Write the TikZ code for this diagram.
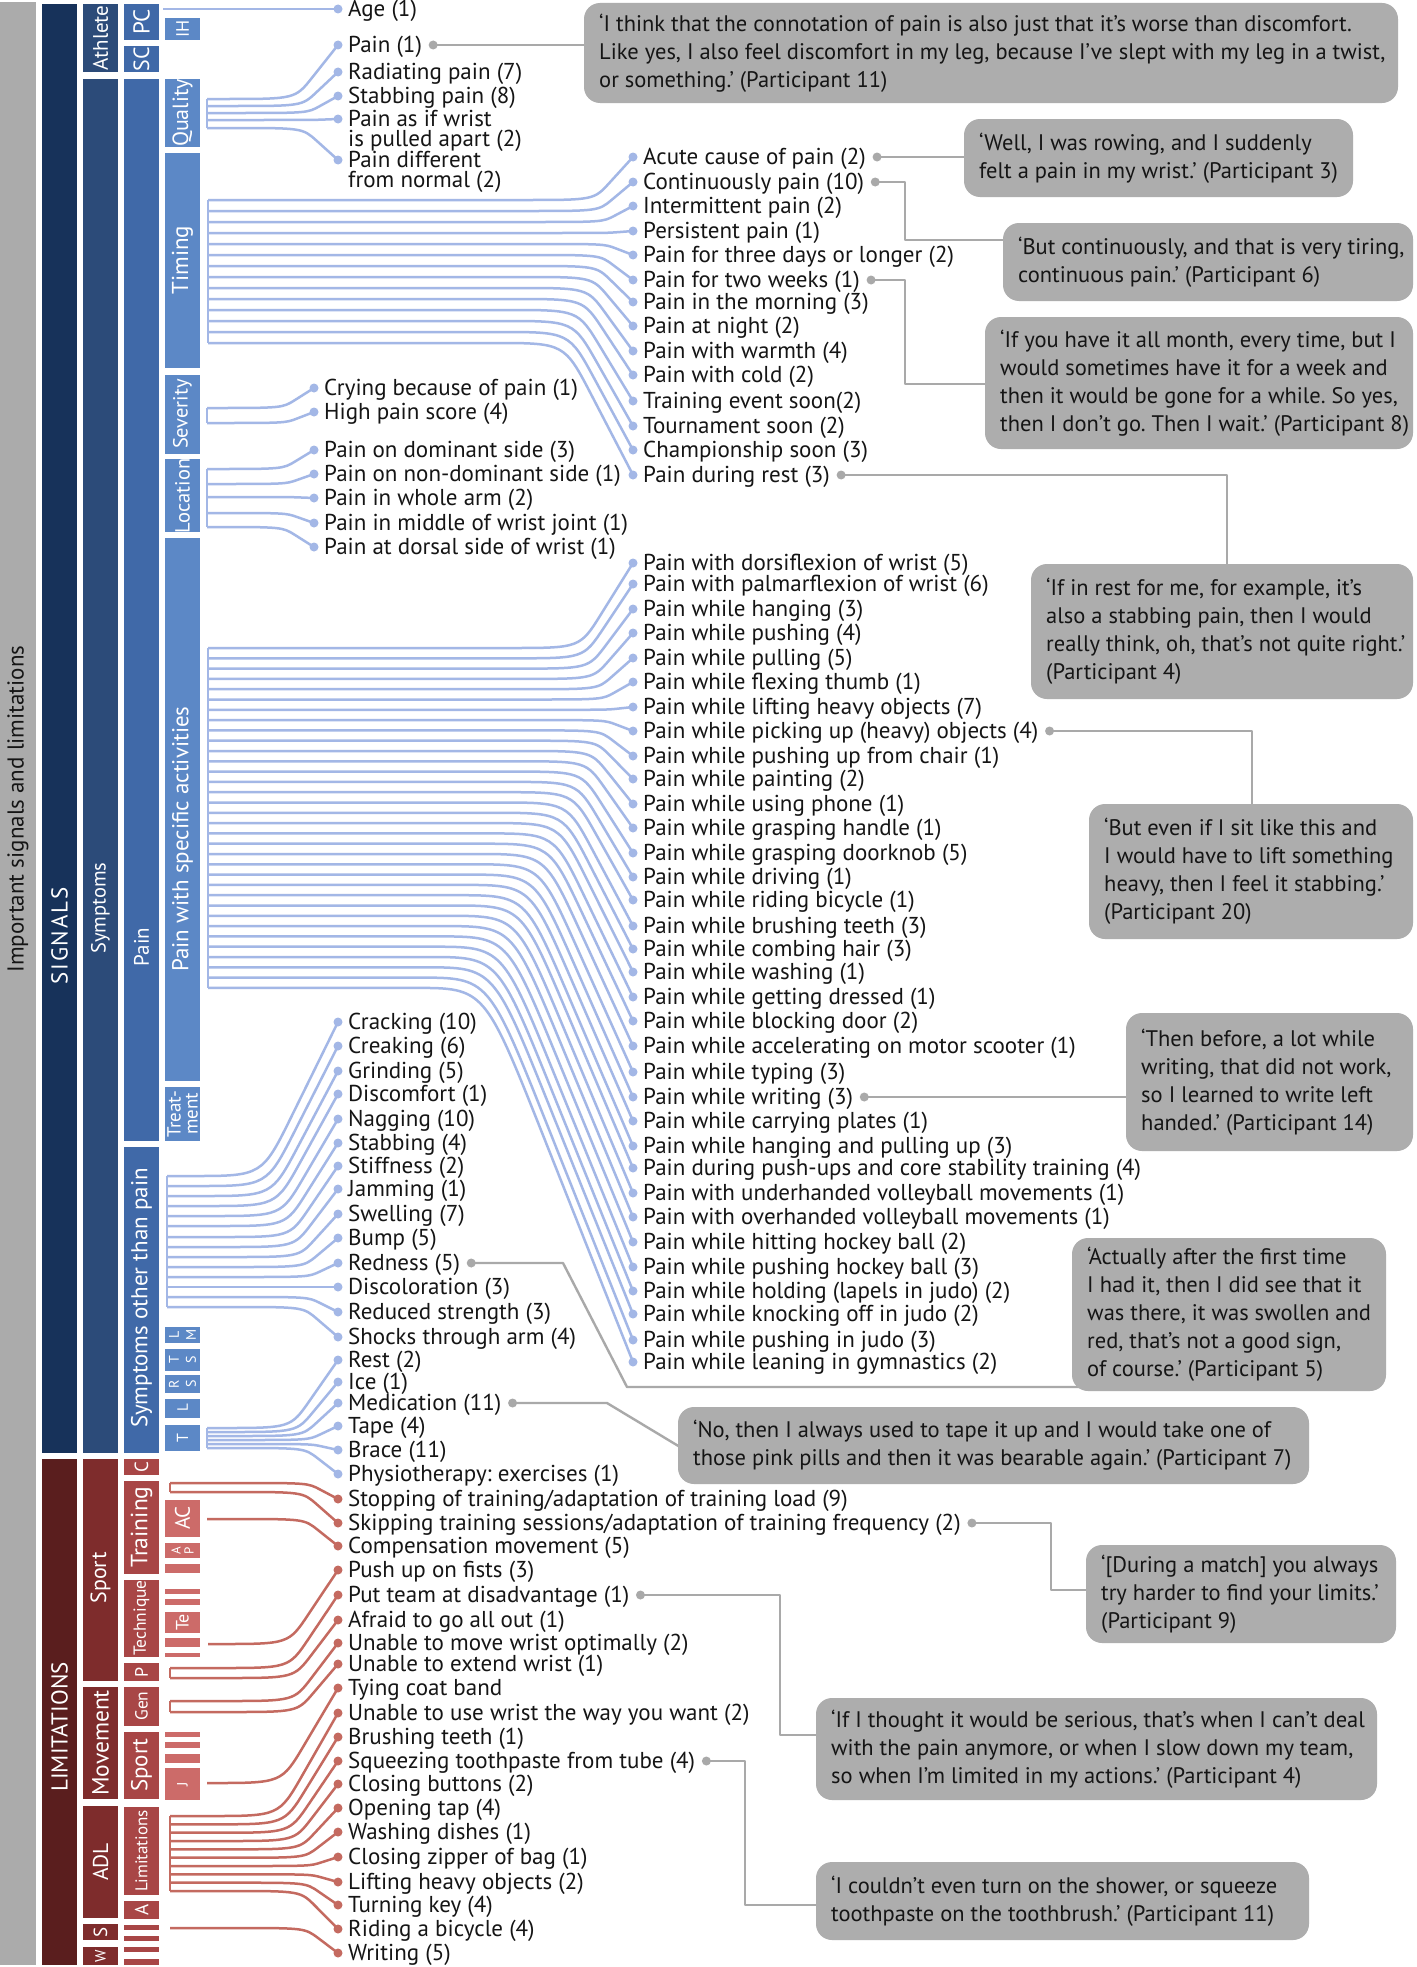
\documentclass[tikz,border=0pt]{standalone}
\usepackage{fontspec}
\setmainfont{PT Sans}
\usetikzlibrary{calc}
\pgfdeclarelayer{bg}
\pgfsetlayers{bg,main}
\frenchspacing
\definecolor{gcol}{HTML}{ABABAB}
\definecolor{bA}{HTML}{17325A}
\definecolor{bB}{HTML}{2C4B79}
\definecolor{bC}{HTML}{4069A8}
\definecolor{bD}{HTML}{5C88C6}
\definecolor{bl}{HTML}{A3B7E6}
\definecolor{rA}{HTML}{5A1E1E}
\definecolor{rB}{HTML}{7E2C2C}
\definecolor{rC}{HTML}{A84646}
\definecolor{rD}{HTML}{CC6B69}
\definecolor{rl}{HTML}{C46A60}
\definecolor{qg}{HTML}{ADADAD}
\definecolor{ql}{HTML}{A9A9A9}
\definecolor{txt}{HTML}{151515}
\newcommand\lfont{\fontsize{23}{24}\selectfont}
\newcommand\qfont{\fontsize{22.5}{28}\selectfont}
\newcommand\fs[1]{\fontsize{#1}{#1}\selectfont}
\tikzset{
 cb/.style={inner sep=0, draw=none, minimum width=35},
 rt/.style={rotate=90, inner sep=0, text=white, align=center},
 bdot/.style={circle, fill=bl, inner sep=0, minimum size=9},
 rdot/.style={circle, fill=rl, inner sep=0, minimum size=9},
 gdot/.style={circle, fill=ql, inner sep=0, minimum size=9},
 bln/.style={draw=bl, line width=2.5pt, line join=round},
 rln/.style={draw=rl, line width=2.5pt, line join=round},
 qln/.style={draw=ql, line width=2.4pt, line join=round},
 lbl/.style={anchor=base west, inner sep=0, font=\lfont, text=txt},
 qb/.style={fill=qg, rounded corners=16, inner sep=0},
 qt/.style={anchor=west, inner sep=0, font=\qfont, align=left, text=txt},
}
% coloured column box: name, colour, x1, y1, y2
\newcommand\cbx[5]{\node[cb, fill=#2, minimum height={#5-#4}] (#1) at ({#3+17.5},{(#4+#5)/2}) {};}
% branch item: line style, dot style, name, xs, ys, xdot, y, text
\newcommand\brit[8]{%
  \node[#2] (#3) at (#6,#7) {};
  \node[lbl] (#3t) at ({#6+10},{#7+7.5}) {#8};
  \pgfmathsetmacro\brdy{abs(#7-#5)}%
  \pgfmathsetmacro\brxb{#6-25-0.33*\brdy}%
  \pgfmathsetmacro\brxa{max(#4+5,\brxb-70)}%
  \coordinate (s#3) at (#4,#5);
  \begin{pgfonlayer}{bg}
  \draw[#1] (s#3) -- (\brxa,#5) .. controls (\brxb,#5) .. ($(\brxb,#5)!0.4!(#3.center)$) -- (#3.center);
  \end{pgfonlayer}}
\newcommand\bB[4]{\brit{bln}{bdot}{#1}{208}{#2}{633}{#3}{#4}}
\newcommand\bA[4]{\brit{bln}{bdot}{#1}{167}{#2}{338}{#3}{#4}}
\newcommand\rR[5]{\brit{rln}{rdot}{#1}{#2}{#3}{338}{#4}{#5}}
% quote box: name, x1, y1, x2, y2, text
\newcommand\qbox[6]{%
  \node[qb, minimum width={#4-#2}, minimum height={#5-#3}] (#1) at ({(#2+#4)/2},{(#3+#5)/2}) {};
  \node[qt] (#1t) at ({#2+15},{(#3+#5)/2}) {#6};}
\newcommand\gd[2]{\node[gdot] (#1) at ($(#2.base east)+(11,-7.5)$) {};}
\begin{document}
\begin{tikzpicture}[x=1pt,y=-1pt]
\useasboundingbox (0,0) rectangle (1416,1967);
\begin{pgfonlayer}{bg}
\fill[white] (0,0) rectangle (1416,1967);
\end{pgfonlayer}
% ---------------- columns ----------------
\node[cb, fill=gcol, minimum width=36, minimum height=1963] (gray) at (18,983.5) {};
\node[rt, text=txt, font=\fs{23}] (tImp) at (18,809) {Important signals and limitations};
% column 1
\cbx{cSig}{bA}{42}{4}{1453}
\cbx{cLim}{rA}{42}{1459}{1965}
\node[rt, font=\fs{23}\addfontfeatures{LetterSpace=8}] (tSig) at (59.5,936) {SIGNALS};
\node[rt, font=\fs{23}] (tLim) at (59.5,1727) {LIMITATIONS};
% column 2
\cbx{cAth}{bB}{83}{4}{72}
\cbx{cSym}{bB}{83}{79}{1453}
\cbx{cSpo}{rB}{83}{1459}{1681}
\cbx{cMov}{rB}{83}{1687}{1799}
\cbx{cADL}{rB}{83}{1806}{1918}
\cbx{cS}{rB}{83}{1924}{1940}
\cbx{cW}{rB}{83}{1947}{1965}
\node[rt, font=\fs{21}] (tAth) at (100.5,38) {Athlete};
\node[rt, font=\fs{20.5}] (tSym) at (100.5,908) {Symptoms};
\node[rt, font=\fs{22}] (tSpo) at (100.5,1578) {Sport};
\node[rt, font=\fs{23.5}] (tMov) at (100.5,1743) {Movement};
\node[rt, font=\fs{21.5}] (tADL) at (100.5,1862) {ADL};
\node[rt, font=\fs{19}] (tS) at (100.5,1932) {S};
\node[rt, font=\fs{15}] (tW) at (100.5,1956) {W};
% column 3
\cbx{cPC}{bC}{124}{4}{40}
\cbx{cSC}{bC}{124}{46}{72}
\cbx{cPain}{bC}{124}{79}{1141}
\cbx{cSop}{bC}{124}{1147}{1453}
\cbx{cC}{rC}{124}{1459}{1475}
\cbx{cTra}{rC}{124}{1481}{1574}
\cbx{cTec}{rC}{124}{1580}{1657}
\cbx{cP}{rC}{124}{1663}{1681}
\cbx{cGen}{rC}{124}{1687}{1726}
\cbx{cSp2}{rC}{124}{1732}{1799}
\cbx{cLimi}{rC}{124}{1807}{1895}
\cbx{cA}{rC}{124}{1901}{1919}
\cbx{cs1}{rC}{124}{1925}{1930}
\cbx{cs2}{rC}{124}{1936}{1941}
\cbx{cs3}{rC}{124}{1947}{1952}
\cbx{cs4}{rC}{124}{1959}{1965}
\node[rt, font=\fs{23}] (tPC) at (141.5,22) {PC};
\node[rt, font=\fs{22}] (tSC) at (141.5,59) {SC};
\node[rt, font=\fs{21}] (tPain) at (141.5,947) {Pain};
\node[rt, font=\fs{23}] (tSop) at (141.5,1298) {Symptoms other than pain};
\node[rt, font=\fs{19}] (tC) at (141.5,1467) {C};
\node[rt, font=\fs{23.5}] (tTra) at (141.5,1527) {Training};
\node[rt, font=\fs{17.5}] (tTec) at (141.5,1618) {Technique};
\node[rt, font=\fs{18}] (tP) at (141.5,1672) {P};
\node[rt, font=\fs{17.5}] (tGen) at (141.5,1706) {Gen};
\node[rt, font=\fs{23}] (tSp2) at (141.5,1765) {Sport};
\node[rt, font=\fs{17}] (tLimi) at (141.5,1851) {Limitations};
\node[rt, font=\fs{19}] (tA) at (141.5,1910) {A};
% column 4
\cbx{dIH}{bD}{165}{18}{40}
\cbx{dQua}{bD}{165}{79}{147}
\cbx{dTim}{bD}{165}{153}{368}
\cbx{dSev}{bD}{165}{375}{454}
\cbx{dLoc}{bD}{165}{459}{532}
\cbx{dAct}{bD}{165}{538}{1081}
\cbx{dTre}{bD}{165}{1087}{1141}
\cbx{dLM}{bD}{165}{1327}{1343}
\cbx{dTS}{bD}{165}{1349}{1371}
\cbx{dRS}{bD}{165}{1375}{1393}
\cbx{dL}{bD}{165}{1399}{1418}
\cbx{dT}{bD}{165}{1425}{1451}
\cbx{dAC}{rD}{165}{1500}{1537}
\cbx{dAP}{rD}{165}{1543}{1558}
\cbx{ds1}{rD}{165}{1564}{1573}
\cbx{ds2}{rD}{165}{1589}{1594}
\cbx{ds3}{rD}{165}{1599}{1605}
\cbx{dTe}{rD}{165}{1612}{1633}
\cbx{ds4}{rD}{165}{1638}{1647}
\cbx{ds5}{rD}{165}{1653}{1657}
\cbx{ds6}{rD}{165}{1732}{1737}
\cbx{ds7}{rD}{165}{1742}{1748}
\cbx{ds8}{rD}{165}{1754}{1763}
\cbx{dJ}{rD}{165}{1768}{1800}
\node[rt, font=\fs{18}] (tIH) at (182.5,29) {IH};
\node[rt, font=\fs{22}] (tQua) at (182.5,113) {Quality};
\node[rt, font=\fs{23}] (tTim) at (182.5,260) {Timing};
\node[rt, font=\fs{20.5}] (tSev) at (182.5,414) {Severity};
\node[rt, font=\fs{20.5}] (tLoc) at (182.5,496) {Location};
\node[rt, font=\fs{23}] (tAct) at (182.5,839) {Pain with specific activities};
\node[rt, font=\fontsize{19}{17}\selectfont] (tTre) at (182.5,1114) {Treat-\\ment};
\node[rt, font=\fontsize{14}{17}\selectfont] (tLM) at (182.5,1335) {L\\M};
\node[rt, font=\fontsize{14}{17}\selectfont] (tTS) at (182.5,1360) {T\\S};
\node[rt, font=\fontsize{14}{17}\selectfont] (tRS) at (182.5,1384) {R\\S};
\node[rt, font=\fs{15}] (tL) at (182.5,1408) {L};
\node[rt, font=\fs{16}] (tT) at (182.5,1438) {T};
\node[rt, font=\fs{21}] (tAC) at (182.5,1518) {AC};
\node[rt, font=\fontsize{13}{13}\selectfont] (tAP) at (182.5,1550.5) {A\\P};
\node[rt, font=\fs{18}] (tTe) at (182.5,1622.5) {Te};
\node[rt, font=\fs{15}] (tJ) at (182.5,1784) {J};
% ---------------- Signals: athlete ----------------
\node[bdot] (a1) at (338,9) {};
\node[lbl] (a1t) at (348,16.5) {Age (1)};
\coordinate (sa1) at (163,9);
\begin{pgfonlayer}{bg}\draw[bln] (sa1) -- (a1.center);\end{pgfonlayer}
% quality
\brit{bln}{bdot}{q1}{207}{99}{338}{45}{Pain (1)}
\brit{bln}{bdot}{q2}{207}{106}{338}{72}{Radiating pain (7)}
\brit{bln}{bdot}{q3}{207}{113}{338}{96}{Stabbing pain (8)}
\brit{bln}{bdot}{q4}{207}{120}{338}{119}{Pain as if wrist}
\node[lbl] (q4u) at (348,146.5) {is pulled apart (2)};
\brit{bln}{bdot}{q5}{207}{128}{338}{160}{Pain different}
\node[lbl] (q5u) at (348,187.5) {from normal (2)};
% timing
\bB{tm1}{200}{157}{Acute cause of pain (2)}
\bB{tm2}{211}{182}{Continuously pain (10)}
\bB{tm3}{222}{206}{Intermittent pain (2)}
\bB{tm4}{233}{231}{Persistent pain (1)}
\bB{tm5}{244}{255}{Pain for three days or longer (2)}
\bB{tm6}{255}{280}{Pain for two weeks (1)}
\bB{tm7}{266}{302}{Pain in the morning (3)}
\bB{tm8}{277}{326}{Pain at night (2)}
\bB{tm9}{288}{351}{Pain with warmth (4)}
\bB{tm10}{299}{375}{Pain with cold (2)}
\bB{tm11}{310}{401}{Training event soon(2)}
\bB{tm12}{321}{426}{Tournament soon (2)}
\bB{tm13}{332}{450}{Championship soon (3)}
\bB{tm14}{343}{475}{Pain during rest (3)}
% severity
\brit{bln}{bdot}{sv1}{207}{408}{314}{388}{Crying because of pain (1)}
\brit{bln}{bdot}{sv2}{207}{423}{314}{412}{High pain score (4)}
% location
\brit{bln}{bdot}{lc1}{207}{469}{314}{450}{Pain on dominant side (3)}
\brit{bln}{bdot}{lc2}{207}{484}{314}{474}{Pain on non-dominant side (1)}
\brit{bln}{bdot}{lc3}{207}{497}{314}{498}{Pain in whole arm (2)}
\brit{bln}{bdot}{lc4}{207}{513}{314}{523}{Pain in middle of wrist joint (1)}
\brit{bln}{bdot}{lc5}{207}{527}{314}{547}{Pain at dorsal side of wrist (1)}
% activities
\bB{ac1}{648}{563}{Pain with dorsiflexion of wrist (5)}
\bB{ac2}{658.3}{584}{Pain with palmarflexion of wrist (6)}
\bB{ac3}{668.6}{609}{Pain while hanging (3)}
\bB{ac4}{678.9}{633}{Pain while pushing (4)}
\bB{ac5}{689.2}{658}{Pain while pulling (5)}
\bB{ac6}{699.5}{682}{Pain while flexing thumb (1)}
\bB{ac7}{709.8}{707}{Pain while lifting heavy objects (7)}
\bB{ac8}{720.1}{731}{Pain while picking up (heavy) objects (4)}
\bB{ac9}{730.4}{756}{Pain while pushing up from chair (1)}
\bB{ac10}{740.7}{779}{Pain while painting (2)}
\bB{ac11}{751}{804}{Pain while using phone (1)}
\bB{ac12}{761.3}{828}{Pain while grasping handle (1)}
\bB{ac13}{771.6}{853}{Pain while grasping doorknob (5)}
\bB{ac14}{781.9}{877}{Pain while driving (1)}
\bB{ac15}{792.2}{900}{Pain while riding bicycle (1)}
\bB{ac16}{802.5}{926}{Pain while brushing teeth (3)}
\bB{ac17}{812.8}{949}{Pain while combing hair (3)}
\bB{ac18}{823.1}{972}{Pain while washing (1)}
\bB{ac19}{833.4}{997}{Pain while getting dressed (1)}
\bB{ac20}{843.7}{1021}{Pain while blocking door (2)}
\bB{ac21}{854}{1046}{Pain while accelerating on motor scooter (1)}
\bB{ac22}{864.3}{1072}{Pain while typing (3)}
\bB{ac23}{874.6}{1097}{Pain while writing (3)}
\bB{ac24}{884.9}{1121}{Pain while carrying plates (1)}
\bB{ac25}{895.2}{1146}{Pain while hanging and pulling up (3)}
\bB{ac26}{905.5}{1168}{Pain during push-ups and core stability training (4)}
\bB{ac27}{915.8}{1193}{Pain with underhanded volleyball movements (1)}
\bB{ac28}{926.1}{1217}{Pain with overhanded volleyball movements (1)}
\bB{ac29}{936.4}{1242}{Pain while hitting hockey ball (2)}
\bB{ac30}{946.7}{1267}{Pain while pushing hockey ball (3)}
\bB{ac31}{957}{1291}{Pain while holding (lapels in judo) (2)}
\bB{ac32}{967.3}{1314}{Pain while knocking off in judo (2)}
\bB{ac33}{977.6}{1340}{Pain while pushing in judo (3)}
\bB{ac34}{987.9}{1362}{Pain while leaning in gymnastics (2)}
% symptoms other than pain
\bA{so1}{1176}{1022}{Cracking (10)}
\bA{so2}{1186}{1046}{Creaking (6)}
\bA{so3}{1196}{1071}{Grinding (5)}
\bA{so4}{1206}{1094}{Discomfort (1)}
\bA{so5}{1216}{1119}{Nagging (10)}
\bA{so6}{1226}{1143}{Stabbing (4)}
\bA{so7}{1237}{1166}{Stiffness (2)}
\bA{so8}{1247}{1189}{Jamming (1)}
\bA{so9}{1257}{1214}{Swelling (7)}
\bA{so10}{1267}{1238}{Bump (5)}
\bA{so11}{1277}{1263}{Redness (5)}
\bA{so12}{1287}{1287}{Discoloration (3)}
\bA{so13}{1297}{1312}{Reduced strength (3)}
\bA{so14}{1307}{1337}{Shocks through arm (4)}
% treatment
\brit{bln}{bdot}{tr1}{207}{1428}{338}{1360}{Rest (2)}
\brit{bln}{bdot}{tr2}{207}{1432}{338}{1382}{Ice (1)}
\brit{bln}{bdot}{tr3}{207}{1436}{338}{1403}{Medication (11)}
\brit{bln}{bdot}{tr4}{207}{1440}{338}{1426}{Tape (4)}
\brit{bln}{bdot}{tr5}{207}{1444}{338}{1450}{Brace (11)}
\brit{bln}{bdot}{tr6}{207}{1448}{338}{1474}{Physiotherapy: exercises (1)}
% ---------------- Limitations ----------------
\rR{l1}{170}{1483}{1499}{Stopping of training/adaptation of training load (9)}
\rR{l2}{170}{1492}{1523}{Skipping training sessions/adaptation of training frequency (2)}
\rR{l3}{207}{1519}{1546}{Compensation movement (5)}
\rR{l4}{208}{1644}{1570}{Push up on fists (3)}
\rR{l5}{170}{1668}{1595}{Put team at disadvantage (1)}
\rR{l6}{170}{1678}{1620}{Afraid to go all out (1)}
\rR{l7}{170}{1701}{1643}{Unable to move wrist optimally (2)}
\rR{l8}{170}{1712}{1664}{Unable to extend wrist (1)}
\rR{l9}{207}{1783}{1688}{Tying coat band}
\rR{l10}{170}{1816}{1713}{Unable to use wrist the way you want (2)}
\rR{l11}{170}{1824.3}{1737}{Brushing teeth (1)}
\rR{l12}{170}{1832.7}{1761}{Squeezing toothpaste from tube (4)}
\rR{l13}{170}{1841}{1784}{Closing buttons (2)}
\rR{l14}{170}{1849.3}{1808}{Opening tap (4)}
\rR{l15}{170}{1857.7}{1832}{Washing dishes (1)}
\rR{l16}{170}{1866}{1857}{Closing zipper of bag (1)}
\rR{l17}{170}{1874.3}{1882}{Lifting heavy objects (2)}
\rR{l18}{170}{1882.7}{1905}{Turning key (4)}
\rR{l19}{170}{1891}{1929}{Riding a bicycle (4)}
\rR{l20}{170}{1928}{1953}{Writing (5)}
% spines
\begin{pgfonlayer}{bg}
\draw[bln] (sq1) -- (sq5);
\draw[bln] (stm1) -- (stm14);
\draw[bln] (ssv1) -- (ssv2);
\draw[bln] (slc1) -- (slc5);
\draw[bln] (sac1) -- (sac34);
\draw[bln] (sso1) -- (sso14);
\draw[bln] (str1) -- (str6);
\draw[rln] (sl1) -- (sl2);
\draw[rln] (sl5) -- (sl6);
\draw[rln] (sl7) -- (sl8);
\draw[rln] (sl10) -- (sl19);
\end{pgfonlayer}
% ---------------- quotes ----------------
\qbox{Q1}{584}{3}{1398}{103}{‘I think that the connotation of pain is also just that it’s worse than discomfort.\\Like yes, I also feel discomfort in my leg, because I’ve slept with my leg in a twist,\\or something.’ (Participant 11)}
\qbox{Q2}{964}{119}{1353}{197}{‘Well, I was rowing, and I suddenly\\felt a pain in my wrist.’ (Participant 3)}
\qbox{Q3}{1003}{223}{1413}{301}{‘But continuously, and that is very tiring,\\continuous pain.’ (Participant 6)}
\qbox{Q4}{985}{317}{1413}{449}{‘If you have it all month, every time, but I\\would sometimes have it for a week and\\then it would be gone for a while. So yes,\\then I don’t go. Then I wait.’ (Participant 8)}
\qbox{Q5}{1031}{564}{1413}{699}{‘If in rest for me, for example, it’s\\also a stabbing pain, then I would\\really think, oh, that’s not quite right.’\\(Participant 4)}
\qbox{Q6}{1089}{804}{1413}{939}{‘But even if I sit like this and\\I would have to lift something\\heavy, then I feel it stabbing.’\\(Participant 20)}
\qbox{Q7}{1126}{1013}{1413}{1151}{‘Then before, a lot while\\writing, that did not work,\\so I learned to write left\\handed.’ (Participant 14)}
\qbox{Q8}{1072}{1238}{1386}{1391}{‘Actually after the first time\\I had it, then I did see that it\\was there, it was swollen and\\red, that’s not a good sign,\\of course.’ (Participant 5)}
\qbox{Q9}{678}{1407}{1309}{1484}{‘No, then I always used to tape it up and I would take one of\\those pink pills and then it was bearable again.’ (Participant 7)}
\qbox{Q10}{1086}{1545}{1396}{1643}{‘[During a match] you always\\try harder to find your limits.’\\(Participant 9)}
\qbox{Q11}{816}{1698}{1377}{1800}{‘If I thought it would be serious, that’s when I can’t deal\\with the pain anymore, or when I slow down my team,\\so when I’m limited in my actions.’ (Participant 4)}
\qbox{Q12}{816}{1862}{1309}{1940}{‘I couldn’t even turn on the shower, or squeeze\\toothpaste on the toothbrush.’ (Participant 11)}
% gray dots
\gd{g1}{q1t}
\gd{g2}{tm1t}
\gd{g3}{tm2t}
\gd{g4}{tm6t}
\gd{g5}{tm14t}
\gd{g6}{ac8t}
\gd{g7}{ac23t}
\gd{g8}{so11t}
\gd{g9}{tr3t}
\gd{g10}{l2t}
\gd{g11}{l5t}
\gd{g12}{l12t}
\coordinate (e3) at (905,240); \coordinate (k3) at (1010,240);
\coordinate (e4) at (905,384); \coordinate (k4) at (990,384);
\coordinate (k5) at (1227,570);
\coordinate (k6) at (1252,810);
\coordinate (e8a) at (563,1263); \coordinate (e8b) at (627,1387); \coordinate (k8) at (1080,1387);
\coordinate (e9a) at (607,1403); \coordinate (k9) at (690,1453);
\coordinate (e10) at (1051,1590); \coordinate (k10) at (1090,1590);
\coordinate (e11) at (780,1735); \coordinate (k11) at (820,1735);
\coordinate (e12) at (745,1905); \coordinate (k12) at (820,1905);
\begin{pgfonlayer}{bg}
\draw[qln] (g1.center) -- ($(g1.center -| Q1.west)+(6,0)$);
\draw[qln] (g2.center) -- ($(g2.center -| Q2.west)+(6,0)$);
\draw[qln] (g3.center) -| (e3) -- (k3);
\draw[qln] (g4.center) -| (e4) -- (k4);
\draw[qln] (g5.center) -| (k5);
\draw[qln] (g6.center) -| (k6);
\draw[qln] (g7.center) -- ($(g7.center -| Q7.west)+(6,0)$);
\draw[qln] (g8.center) -- (g8.center -| e8a) -- (e8b) -- (k8);
\draw[qln] (g9.center) -- (g9.center -| e9a) -- (k9);
\draw[qln] (g10.center) -| (e10) -- (k10);
\draw[qln] (g11.center) -| (e11) -- (k11);
\draw[qln] (g12.center) -| (e12) -- (k12);
\end{pgfonlayer}
\end{tikzpicture}
\end{document}
